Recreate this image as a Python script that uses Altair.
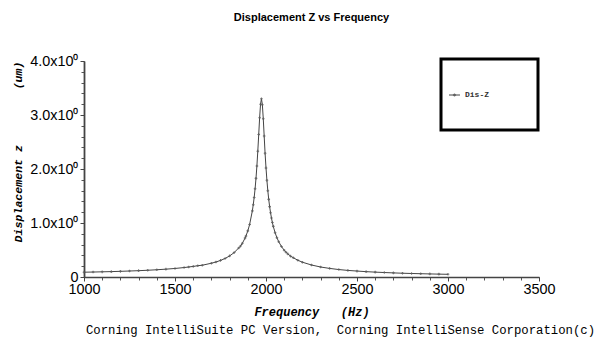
import altair as alt
import pandas as pd

freq = [1000, 1050, 1100, 1150, 1200, 1250, 1300, 1350, 1400, 1450, 1500, 1550,
        1575, 1600, 1625, 1650, 1700, 1725, 1750, 1775, 1800, 1825, 1850, 1860,
        1870, 1885, 1890, 1900, 1910, 1925, 1930, 1935, 1940, 1945, 1950, 1955,
        1960, 1965, 1970, 1975, 1980, 1985, 1990, 1995, 2000, 2005, 2010, 2015,
        2020, 2025, 2030, 2035, 2040, 2050, 2060, 2070, 2085, 2100, 2110, 2120,
        2135, 2150, 2175, 2200, 2250, 2300, 2350, 2400, 2450, 2500, 2550, 2600,
        2650, 2700, 2750, 2800, 2850, 2900, 2950, 3000]
disp = [0.089, 0.092, 0.096, 0.100, 0.105, 0.111, 0.117, 0.125, 0.134, 0.145, 0.158, 0.175,
        0.185, 0.196, 0.209, 0.218, 0.255, 0.278, 0.307, 0.343, 0.390, 0.452, 0.538, 0.573,
        0.624, 0.721, 0.760, 0.854, 0.972, 1.225, 1.338, 1.473, 1.634, 1.826, 2.056, 2.33,
        2.64, 2.95, 3.20, 3.30, 3.19, 2.93, 2.61, 2.29, 2.02, 1.79, 1.598, 1.438,
        1.303, 1.19, 1.093, 1.010, 0.938, 0.820, 0.727, 0.652, 0.564, 0.496, 0.459, 0.427,
        0.386, 0.357, 0.310, 0.274, 0.222, 0.185, 0.159, 0.138, 0.122, 0.110, 0.099, 0.090,
        0.083, 0.076, 0.070, 0.065, 0.061, 0.057, 0.053, 0.050]

x_major = [1000, 1500, 2000, 2500, 3000, 3500]
x_minor = list(range(1000, 3501, 100))
y_major = [0, 1, 2, 3, 4]
y_minor = [i / 5 for i in range(0, 21)]

df = pd.DataFrame({"f": freq, "d": disp})

NB = "\u00a0"
title_text = "Displacement Z vs Frequency"
x_title = "Frequency" + NB * 3 + "(Hz)"
y_title = "Displacement z" + NB * 8 + "(um)"
footer = "Corning IntelliSuite PC Version," + NB * 2 + "Corning IntelliSense Corporation(c)"
legend_label = "Dis-Z"

W, H = 455, 216
xscale = alt.Scale(domain=[1000, 3500], nice=False, zero=False)
yscale = alt.Scale(domain=[0, 4], nice=False)

base = alt.Chart(df)

line = base.mark_line(color="#444444", strokeWidth=1).encode(
    x=alt.X("f:Q", scale=xscale,
            axis=alt.Axis(values=x_minor, labels=False, domain=False, tickSize=3,
                          tickColor="#555555", title=None, grid=False, orient="bottom")),
    y=alt.Y("d:Q", scale=yscale,
            axis=alt.Axis(values=y_minor, labels=False, domain=False, tickSize=3,
                          tickColor="#555555", title=None, grid=False, orient="left")),
)

pts = base.mark_point(shape="cross", size=7, color="#555555", filled=True, opacity=0.8).encode(
    x=alt.X("f:Q", scale=xscale,
            axis=alt.Axis(values=x_major, format="d", labelFont="Liberation Sans",
                          labelFontSize=14.4, labelColor="black", labelPadding=1,
                          labelFlush=False,
                          tickSize=4, tickColor="#444444", domainColor="#444444",
                          domainWidth=1.6, grid=False, orient="bottom",
                          title=x_title, titleFont="Liberation Mono", titleFontSize=12,
                          titleFontStyle="italic", titleFontWeight="bold",
                          titleColor="black", titlePadding=11)),
    y=alt.Y("d:Q", scale=yscale,
            axis=alt.Axis(values=y_major,
                          labelExpr="datum.value == 0 ? '0' : format(datum.value, '.1f') + 'x10\u2070'",
                          labelFont="Liberation Sans", labelFontSize=14.4, labelColor="black",
                          labelPadding=2, labelFlush=False, tickSize=4, tickColor="#444444",
                          domainColor="#444444", domainWidth=1.8, grid=False, orient="left",
                          title=y_title, titleFont="Liberation Mono", titleFontSize=11.6,
                          titleFontStyle="italic", titleFontWeight="bold", titleColor="black",
                          titleAngle=270, titleX=-66, titleY=0, titleAlign="right",
                          titleBaseline="middle")),
)

legend_box = alt.Chart(pd.DataFrame({"k": [0]})).mark_rect(
    fill="white", stroke="black", strokeWidth=3
).encode(x=alt.value(357), x2=alt.value(454), y=alt.value(-2), y2=alt.value(69))

legend_line = alt.Chart(pd.DataFrame({"k": [0]})).mark_rule(
    color="#444444", strokeWidth=1
).encode(x=alt.value(365), x2=alt.value(376), y=alt.value(34))

legend_pt = alt.Chart(pd.DataFrame({"k": [0]})).mark_point(
    shape="cross", size=10, color="#444444", filled=True
).encode(x=alt.value(370.5), y=alt.value(34))

legend_txt = alt.Chart(pd.DataFrame({"k": [0]})).mark_text(
    text=legend_label, font="Liberation Mono", fontSize=8, fontWeight="bold",
    align="left", baseline="middle", color="#333333"
).encode(x=alt.value(381), y=alt.value(34))

footer_txt = alt.Chart(pd.DataFrame({"k": [0]})).mark_text(
    text=footer, font="Liberation Mono", fontSize=12.3, align="center",
    baseline="middle", color="black"
).encode(x=alt.value(256.5), y=alt.value(269))

chart = alt.layer(
    line, pts, legend_box, legend_line, legend_pt, legend_txt, footer_txt
).resolve_axis(x="independent", y="independent").properties(
    width=W, height=H,
    title=alt.TitleParams(title_text, font="Liberation Sans", fontSize=11,
                          fontWeight="bold", anchor="middle", offset=30, color="black"),
    autosize=alt.AutoSizeParams(type="none"),
    padding={"left": 84, "top": 61, "right": 57, "bottom": 61},
    background="white",
).configure_view(stroke=None)

chart.save("out.html", embed_options={"renderer": "svg", "actions": False})
